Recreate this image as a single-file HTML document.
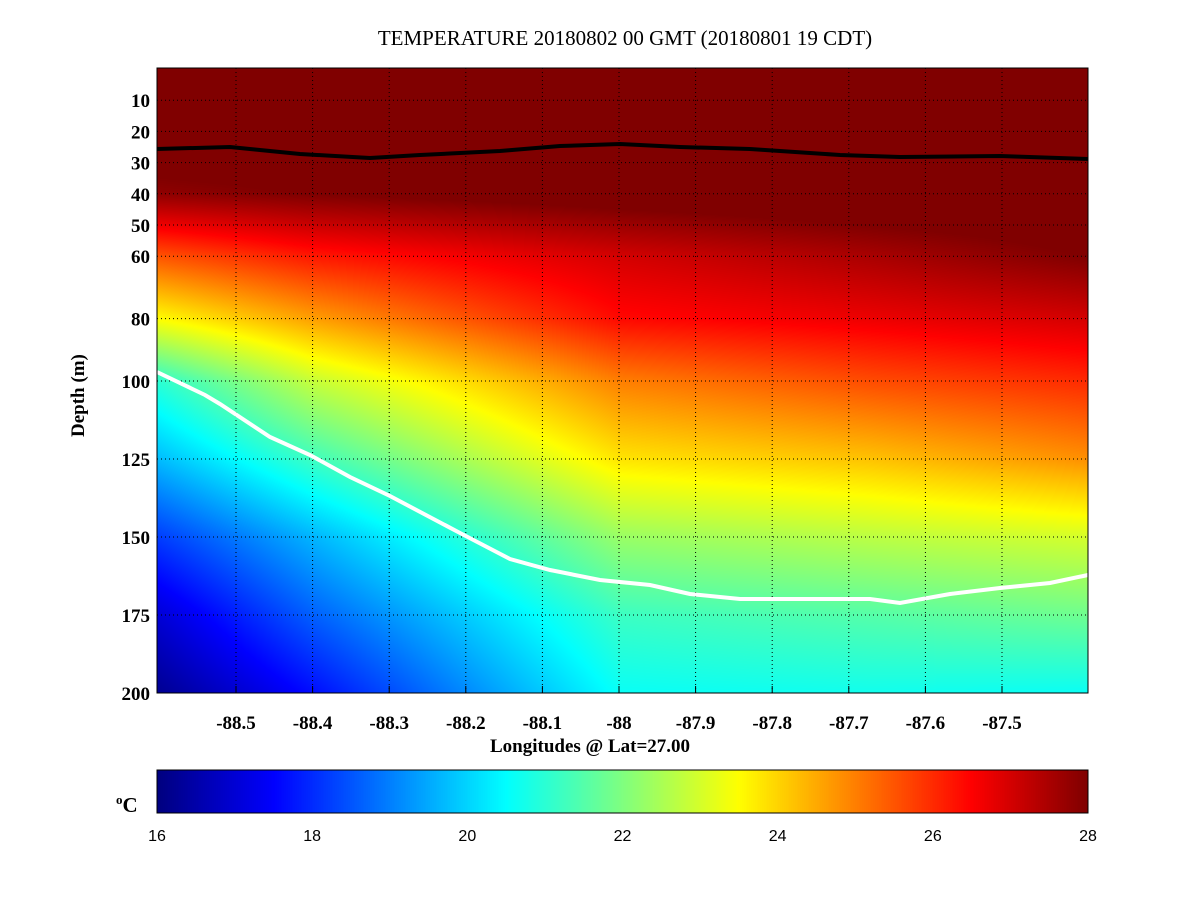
<!DOCTYPE html>
<html><head><meta charset="utf-8"><style>
body{margin:0;background:#fff;width:1201px;height:901px;overflow:hidden;position:relative;font-family:"Liberation Serif",serif}
canvas{position:absolute}
.t{position:absolute;font-weight:bold;font-size:19px;white-space:nowrap}
</style></head><body>
<div style="position:absolute;left:0;width:1250px;top:26px;text-align:center;font-size:21px">TEMPERATURE 20180802 00 GMT (20180801 19 CDT)</div>
<canvas id="f" width="931" height="625" style="left:157px;top:68px"></canvas>
<canvas id="cb" width="931" height="43" style="left:157px;top:770px"></canvas>
<svg width="1201" height="901" style="position:absolute;left:0;top:0" id="s"></svg>
<div class="t" style="left:68px;transform:rotate(-90deg);transform-origin:left top;top:437px">Depth (m)</div>
<div class="t" style="left:490px;top:736px">Longitudes @ Lat=27.00</div>
<div class="t" style="left:116px;top:792px;font-size:21px"><sup style="font-size:13px">o</sup>C</div>
<script>
function jet(v){v=Math.max(0,Math.min(1,v));function c(x){return Math.max(0,Math.min(1,x))}
return [c(1.5-Math.abs(4*v-3)),c(1.5-Math.abs(4*v-2)),c(1.5-Math.abs(4*v-1))].map(x=>Math.round(x*255));}
var D=[0,20,40,60,80,100,125,150,175,200];
var P=[[0,[28.5,28.5,27.8,25.5,23.5,21,19.7,18.2,17,16.2]],
[153,[28.5,28.5,28,26.2,24.6,22.8,21.2,19.6,18.6,17.6]],
[463,[28.5,28.5,28.3,27,26.4,25,23.8,22.3,21.2,20.6]],
[713,[28.5,28.5,28.5,27.5,26.7,25.6,24.2,22.7,21.5,20.7]],
[931,[28.5,28.5,28.5,28,27,26,24.8,23,21.8,20.6]]];
function prof(p,d){for(var i=0;i<D.length-1;i++){if(d<=D[i+1]){var t=(d-D[i])/(D[i+1]-D[i]);return p[i]+(p[i+1]-p[i])*t}}return p[p.length-1]}
function T(x,d){for(var i=0;i<P.length-1;i++){if(x<=P[i+1][0]){var t=(x-P[i][0])/(P[i+1][0]-P[i][0]);return prof(P[i][1],d)*(1-t)+prof(P[i+1][1],d)*t}}return prof(P[4][1],d)}
var cx=document.getElementById('f').getContext('2d'),im=cx.createImageData(931,625);
for(var y=0;y<625;y++){var d=(y+68-69)/3.12;for(var x=0;x<931;x++){var c=jet((T(x,d)-16)/12),k=(y*931+x)*4;im.data[k]=c[0];im.data[k+1]=c[1];im.data[k+2]=c[2];im.data[k+3]=255}}
cx.putImageData(im,0,0);
var cb=document.getElementById('cb').getContext('2d'),im2=cb.createImageData(931,43);
for(var x=0;x<931;x++){var c=jet(x/930);for(var y=0;y<43;y++){var k=(y*931+x)*4;im2.data[k]=c[0];im2.data[k+1]=c[1];im2.data[k+2]=c[2];im2.data[k+3]=255}}
cb.putImageData(im2,0,0);
var s='';
var xt=[-88.5,-88.4,-88.3,-88.2,-88.1,-88,-87.9,-87.8,-87.7,-87.6,-87.5];
xt.forEach(function(v){var x=236+(v+88.5)*766;s+='<line x1="'+x+'" y1="68" x2="'+x+'" y2="693" stroke="#000" stroke-dasharray="1,3"/>';
s+='<text x="'+x+'" y="729" text-anchor="middle" font-weight="bold" font-size="19" font-family="Liberation Serif">'+v+'</text>';
s+='<line x1="'+x+'" y1="693" x2="'+x+'" y2="686" stroke="#000"/>'});
[10,20,30,40,50,60,80,100,125,150,175,200].forEach(function(v){var y=69+3.12*v;if(v<200)s+='<line x1="157" y1="'+y+'" x2="1088" y2="'+y+'" stroke="#000" stroke-dasharray="1,3"/>';
s+='<text x="150" y="'+(y+7)+'" text-anchor="end" font-weight="bold" font-size="19" font-family="Liberation Serif">'+v+'</text>'});
s+='<polyline fill="none" stroke="#000" stroke-width="4" points="157,149 230,147 300,154 370,158 420,155 500,151 560,146 620,144 680,147 750,149 840,155 900,157 1000,156 1088,159"/>';
s+='<polyline fill="none" stroke="#fff" stroke-width="4" points="157,372 205,395 220,404 270,437 310,455 350,477 390,496 460,533 510,559 550,570 600,580 650,585 690,594 740,599 830,599 870,599 900,603 950,594 1000,588 1050,583 1088,575"/>';
s+='<rect x="157" y="68" width="931" height="625" fill="none" stroke="#000"/>';
s+='<rect x="157" y="770" width="931" height="43" fill="none" stroke="#000"/>';
[16,18,20,22,24,26,28].forEach(function(v,i){var x=157+i*931/6;s+='<text x="'+x+'" y="841" text-anchor="middle" font-size="16" font-family="Liberation Sans">'+v+'</text>'});
document.getElementById('s').innerHTML=s;
</script>
</body></html>
